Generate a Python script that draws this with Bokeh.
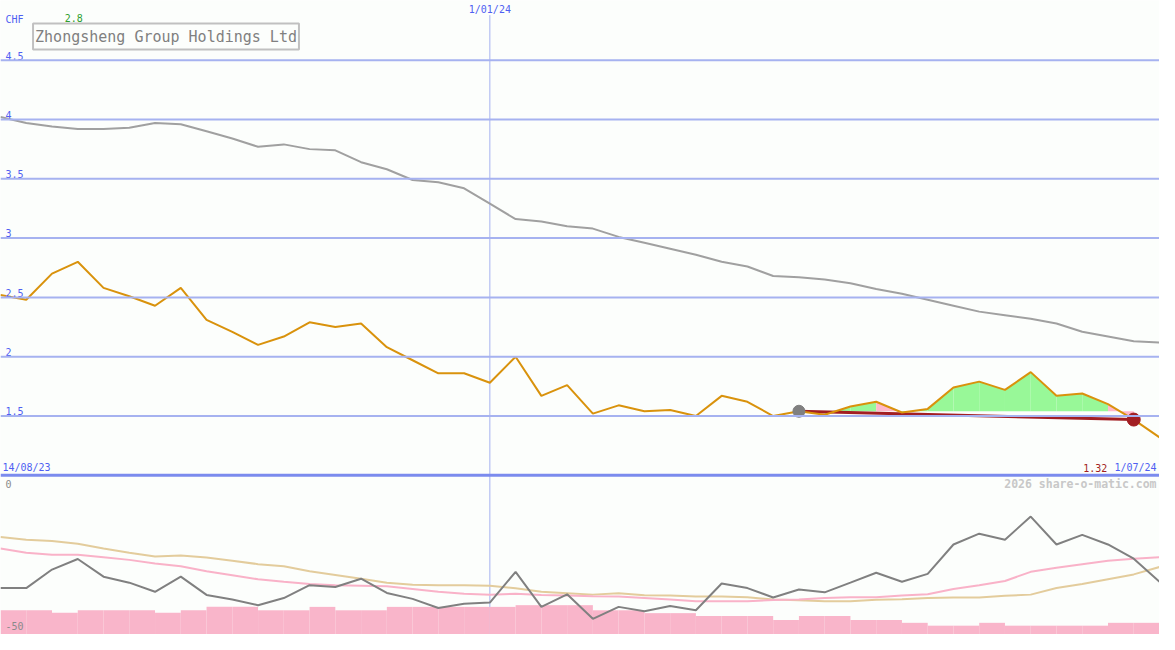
from bokeh.plotting import figure
from bokeh.models import Range1d, Label, Span
from bokeh.core.properties import value
from bokeh.embed import file_html
from bokeh.resources import INLINE

# ---------------- data ----------------
currency = "CHF"
title = "Zhongsheng Group Holdings Ltd"
footer = "2026 share-o-matic.com"
date_labels = ["14/08/23", "1/01/24", "1/07/24"]
date_label_idx = [0, 19, 45]

price = [2.52, 2.48, 2.70, 2.80, 2.58, 2.51, 2.43, 2.58, 2.31, 2.21,
         2.10, 2.17, 2.29, 2.25, 2.28, 2.08, 1.97, 1.86, 1.86, 1.78,
         2.00, 1.67, 1.76, 1.52, 1.59, 1.54, 1.55, 1.50, 1.67, 1.62,
         1.50, 1.54, 1.51, 1.58, 1.62, 1.53, 1.56, 1.74, 1.79, 1.72,
         1.87, 1.67, 1.69, 1.60, 1.47, 1.32]

ma_long = [4.02, 3.97, 3.94, 3.92, 3.92, 3.93, 3.97, 3.96, 3.90, 3.84,
           3.77, 3.79, 3.75, 3.74, 3.64, 3.58, 3.49, 3.47, 3.42, 3.29,
           3.16, 3.14, 3.10, 3.08, 3.01, 2.96, 2.91, 2.86, 2.80, 2.76,
           2.68, 2.67, 2.65, 2.62, 2.57, 2.53, 2.48, 2.43, 2.38, 2.35,
           2.32, 2.28, 2.21, 2.17, 2.13, 2.12]

osc = [-39.5, -39.5, -33.0, -29.3, -35.5, -37.6, -40.8, -35.5, -41.9, -43.5,
       -45.5, -43.0, -38.5, -39.1, -36.2, -41.2, -43.3, -46.5, -45.0, -44.6,
       -33.8, -46.1, -41.7, -50.3, -46.1, -47.6, -45.8, -47.3, -37.9, -39.5,
       -42.8, -40.0, -41.0, -37.6, -34.1, -37.3, -34.5, -24.2, -20.4, -22.5,
       -14.4, -24.2, -20.8, -24.2, -29.2, -37.3]

osc_fast = [-25.6, -27.1, -27.8, -27.8, -28.7, -29.6, -30.9, -31.8, -33.6, -35.0,
            -36.4, -37.3, -38.1, -38.5, -38.7, -38.9, -39.8, -40.8, -41.5, -41.8,
            -41.5, -41.9, -42.1, -42.4, -42.5, -43.0, -43.5, -44.1, -44.1, -44.1,
            -43.7, -43.5, -43.0, -42.7, -42.7, -42.1, -41.7, -39.8, -38.5, -37.0,
            -33.8, -32.4, -31.1, -29.9, -29.2, -28.7]

osc_slow = [-21.6, -22.5, -23.0, -23.9, -25.6, -27.1, -28.4, -28.1, -28.8, -29.9,
            -31.1, -31.8, -33.6, -34.9, -36.2, -37.6, -38.3, -38.5, -38.5, -38.7,
            -39.6, -40.8, -41.3, -41.8, -41.3, -42.0, -42.1, -42.5, -42.5, -42.7,
            -43.5, -43.8, -44.1, -44.1, -43.6, -43.4, -43.0, -42.8, -42.8, -42.2,
            -41.8, -39.5, -38.1, -36.4, -34.7, -32.1]

bars = [-47.3, -47.3, -48.2, -47.3, -47.3, -47.3, -48.2, -47.3, -46.1, -46.1,
        -47.3, -47.3, -46.1, -47.3, -47.3, -46.1, -46.1, -46.1, -46.1, -46.1,
        -45.5, -45.5, -45.5, -47.3, -47.3, -48.3, -48.3, -49.3, -49.3, -49.3,
        -50.7, -49.3, -49.3, -50.7, -50.7, -51.7, -52.7, -52.7, -51.7, -52.7,
        -52.7, -52.7, -52.7, -51.7, -51.7]

grid_levels = [1.5, 2.0, 2.5, 3.0, 3.5, 4.0, 4.5]
grid_labels = ["1.5", "2", "2.5", "3", "3.5", "4", "4.5"]
separator_level = 1.0
lower_levels = [0, -50]
lower_labels = ["0", "-50"]

entry_idx = 31
exit_idx = 44
stop_levels = [1.54, 1.47]

# ---------------- figure ----------------
W, H = 1159, 634
REF_W, REF_H = 1175.0, 650.0
N = len(price)
UP_TOP, UP_BOT = 5.003, -0.342
LO_TOP, LO_BOT = 166.8, -55.8

def ix(px):
    return px / REF_W * (N - 1)

def uy(py):
    return UP_TOP - py / REF_H * (UP_TOP - UP_BOT)

BG = "#fcfefc"
BLUE_TXT = "#4f5ff2"
GRID = "#a6b2f0"
FONT = value("DejaVu Sans Mono")

p = figure(width=W, height=H, x_range=Range1d(0, N - 1),
           y_range=Range1d(UP_BOT, UP_TOP),
           x_axis_location=None, y_axis_location=None,
           output_backend="svg", toolbar_location=None, min_border=0)
p.extra_y_ranges = {"low": Range1d(LO_BOT, LO_TOP)}
p.xgrid.visible = False
p.ygrid.visible = False
p.outline_line_color = None
p.background_fill_color = BG
p.border_fill_color = BG

xs = list(range(N))

# grid lines
for lv in grid_levels:
    p.add_layout(Span(location=lv, dimension="width", line_color=GRID, line_width=2))
p.add_layout(Span(location=separator_level, dimension="width", line_color="#7b8bee", line_width=3))

# vertical date line
p.segment(x0=[date_label_idx[1]], y0=[UP_BOT], x1=[date_label_idx[1]], y1=[uy(15)],
          line_color=GRID, line_width=1)

# lower panel: bars and lines
p.quad(left=xs[:-1], right=xs[1:], top=bars, bottom=[LO_BOT] * len(bars),
       fill_color="#f9b5ca", line_color=None, y_range_name="low")
p.line(xs, osc_slow, line_color="#e3cc9c", line_width=2, y_range_name="low")
p.line(xs, osc_fast, line_color="#f9b2c8", line_width=2, y_range_name="low")
p.line(xs, osc, line_color="#808080", line_width=2, y_range_name="low")

# upper panel
p.line(xs, ma_long, line_color="#a0a0a0", line_width=2)

base = price[entry_idx]
for i in range(entry_idx, exit_idx):
    col = "#98f898" if price[i + 1] >= base else "#ffb8ca"
    p.varea(x=[i, i + 1], y1=[base, base], y2=[price[i], price[i + 1]], fill_color=col)

p.line([entry_idx, exit_idx], stop_levels, line_color="#a21e22", line_width=3)
p.line(xs, price, line_color="#d9920c", line_width=2)

p.scatter([entry_idx], [price[entry_idx]], size=12, fill_color="#808080", line_color="#808080")
p.scatter([exit_idx], [price[exit_idx]], size=13, fill_color="#a21e22", line_color="#a21e22")

# ---------------- texts ----------------
p.text(x=[ix(5)] * len(grid_levels), y=[lv + 0.005 for lv in grid_levels], text=grid_labels,
       text_font=FONT, text_font_size="10px", text_color=BLUE_TXT,
       text_align="left", text_baseline="bottom")

p.text(x=[ix(5)], y=[uy(19)], text=[currency], text_font=FONT, text_font_size="10px",
       text_color=BLUE_TXT, text_align="left", text_baseline="middle")

max_i = price.index(max(price))
p.text(x=[max_i], y=[uy(18)], text=[f"{max(price):.1f}"], text_font=FONT,
       text_font_size="10px", text_color="#2e9e2e", text_align="center",
       text_baseline="middle", x_offset=-4)

p.text(x=[date_label_idx[1]], y=[uy(9)], text=[date_labels[1]], text_font=FONT,
       text_font_size="10px", text_color=BLUE_TXT, text_align="center", text_baseline="middle")
p.text(x=[ix(2)], y=[uy(479)], text=[date_labels[0]], text_font=FONT,
       text_font_size="10px", text_color=BLUE_TXT, text_align="left", text_baseline="middle")
p.text(x=[ix(1172)], y=[uy(479)], text=[date_labels[2]], text_font=FONT,
       text_font_size="10px", text_color=BLUE_TXT, text_align="right", text_baseline="middle")
p.text(x=[ix(1122)], y=[uy(479)], text=[f"{price[-1]:.2f}"], text_font=FONT,
       text_font_size="10px", text_color="#a21e22", text_align="right", text_baseline="middle")

p.text(x=[ix(1172)], y=[uy(496)], text=[footer], text_font=FONT, text_font_size="11.5px",
       text_font_style="bold", text_color="#c8c8c8", text_align="right", text_baseline="middle")

p.text(x=[ix(5)] * 2, y=[lv - 2.8 for lv in lower_levels], text=lower_labels,
       text_font=FONT, text_font_size="10px", text_color="#8a8a8a",
       text_align="left", text_baseline="middle", y_range_name="low")

p.add_layout(Label(x=ix(33), y=uy(37), text=title, text_font="DejaVu Sans Mono",
                   text_font_size="15px", text_color="#808080",
                   text_align="left", text_baseline="middle",
                   border_line_color="#c0c0c0", border_line_width=2,
                   background_fill_color=BG, padding=(2, 4)))

open("out.html", "w").write(file_html(p, INLINE))
